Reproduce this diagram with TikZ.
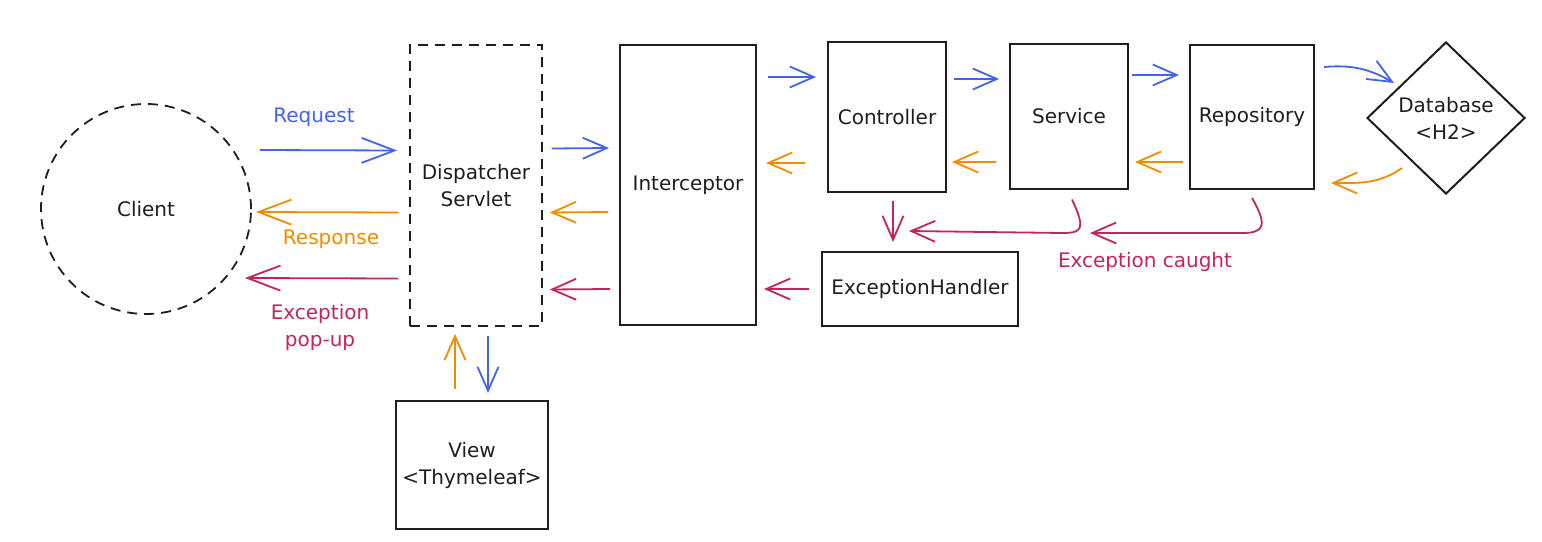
\documentclass[tikz,border=0pt]{standalone}
\usepackage{fontspec}
\setmainfont{DejaVu Sans}
\usepackage{tikz}
\usepackage{xcolor}
\usetikzlibrary{arrows.meta, calc, shapes.geometric, positioning}

\definecolor{ink}{HTML}{1E1E1E}
\definecolor{reqblue}{HTML}{4263EB}
\definecolor{resorange}{HTML}{F08C00}
\definecolor{exred}{HTML}{C2255C}

\begin{document}
\begin{tikzpicture}[x=1pt, y=-1pt,
    every node/.style={font=\fontsize{20}{27}\selectfont, text=ink},
    box/.style={draw=ink, line width=2pt, rectangle, align=center},
    dbox/.style={box, line width=1.8pt, dash pattern=on 10pt off 7pt},
    tip/.style={-{Straight Barb[length=24pt, width=21pt]}},
    big/.style={-{Straight Barb[length=33pt, width=25pt]}},
    blu/.style={draw=reqblue, line width=1.8pt, tip},
    org/.style={draw=resorange, line width=1.8pt, tip},
    exc/.style={draw=exred, line width=1.8pt, tip}]
    \useasboundingbox (0,0) rectangle (1542,541);

    \node[dbox, circle, minimum size=210pt] (cl) at (146,209) {Client};
    \node[dbox, minimum width=132pt, minimum height=281pt] (ds) at (476,185.5) {Dispatcher\\Servlet};
    \node[box, minimum width=136pt, minimum height=280pt] (ic) at (688,185) {Interceptor};
    \node[box, minimum width=118pt, minimum height=150pt] (ct) at (887,117) {Controller};
    \node[box, minimum width=118pt, minimum height=145pt] (sv) at (1069,116) {Service};
    \node[box, minimum width=124pt, minimum height=144pt] (rp) at (1252,117) {Repository};
    \node[box, diamond, minimum width=158pt, minimum height=152pt, inner sep=0pt] (db) at (1446,118) {Database\\<H2>};
    \node[box, minimum width=196pt, minimum height=74pt] (eh) at (920,289) {ExceptionHandler};
    \node[box, minimum width=152pt, minimum height=128pt] (vw) at (472,465) {View\\<Thymeleaf>};

    \node[text=reqblue] (rq) at (314,117) {Request};
    \node[text=resorange] (rs) at (331,239) {Response};
    \node[text=exred, align=center] (ep) at (320,327) {Exception\\pop-up};
    \node[text=exred] (ec) at (1145,262) {Exception caught};

    % request path
    \draw
    ($(cl.east)+(8,-59)$) edge[blu, big] ($(ds.west)+(-12,-35)$)
    ($(ds.east)+(9,-37)$) edge[blu] ($(ic.west)+(-10,-37)$)
    ($(ic.east)+(11,-108)$) edge[blu] ($(ct.west)+(-11,-40)$)
    ($(ct.east)+(7,-38)$) edge[blu] ($(sv.west)+(-10,-37)$)
    ($(sv.east)+(3,-41)$) edge[blu] ($(rp.west)+(-10,-42)$)
    ($(rp.east)+(9,-50)$) edge[blu, out=5, in=150] ($(db.west)+(28,-35)$)
    ($(ds.south)+(12,9)$) edge[blu] ($(vw.north)+(16,-7)$);

    % response path
    \draw
    ($(db.west)+(36,50)$) edge[org, out=215, in=0] ($(rp.east)+(16,66)$)
    ($(rp.west)+(-6,45)$) edge[org] ($(sv.east)+(6,46)$)
    ($(sv.west)+(-13,46)$) edge[org] ($(ct.east)+(5,45)$)
    ($(ct.west)+(-22,46)$) edge[org] ($(ic.east)+(9,-22)$)
    ($(ic.west)+(-11,27)$) edge[org] ($(ds.east)+(7,27)$)
    ($(ds.west)+(-11,27)$) edge[org, big] ($(cl.east)+(4,3)$)
    ($(vw.north)+(-17,-11)$) edge[org] ($(ds.south)+(-21,7)$);

    % exceptions
    \draw
    ($(ct.south)+(6,8)$) edge[exc] ($(eh.north)+(-27,-9)$)
    ($(eh.west)+(-12,0)$) edge[exc] ($(ic.east)+(7,104)$)
    ($(ic.west)+(-9,104)$) edge[exc] ($(ds.east)+(7,104)$)
    ($(ds.west)+(-11,93)$) edge[exc, big] ($(cl.east)+(-7,69)$);
    \draw[exc] ($(sv.south)+(3,10)$) .. controls +(14,30) and +(20,0) .. ++(-10,33.5) -- ($(eh.north)+(-11,-20)$);
    \draw[exc] ($(rp.south)+(0,8)$) .. controls +(16,28) and +(22,0) .. ++(-10,35) -- ($(sv.south)+(21,43.5)$);
\end{tikzpicture}
\end{document}
